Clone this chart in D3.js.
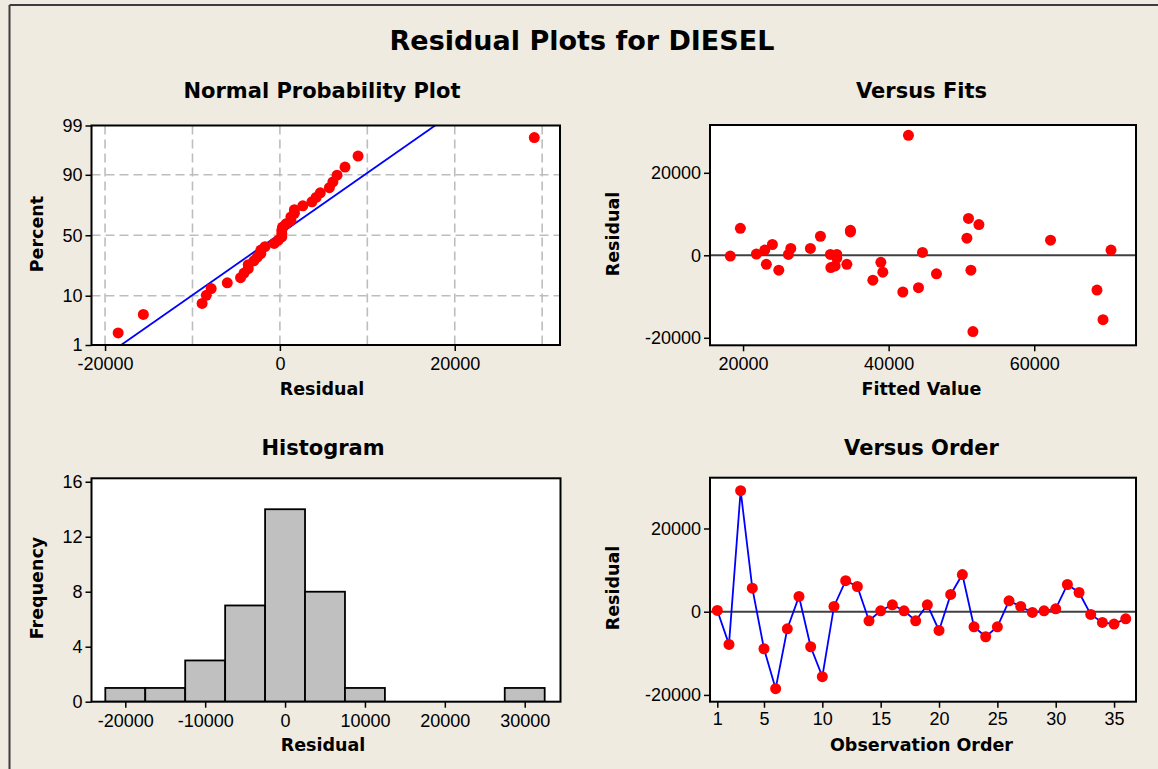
<!DOCTYPE html>
<html><head><meta charset="utf-8">
<script src="https://cdn.jsdelivr.net/npm/d3@7"></script>
<style>body{margin:0;background:#EFEBE0;}svg{display:block}</style>
</head><body>
<svg id="c" width="1158" height="769"></svg>
<script>
// ---------- data ----------
const residuals = [300, -7860, 29100, 5660, -8900, -18500, -4100, 3660, -8420, -15620,
  1260, 7450, 6060, -2180, 220, 1660, 220, -2180, 1660, -4500,
  4140, 8940, -3620, -6020, -3620, 2620, 1260, -180, 220, 700,
  6540, 4620, -660, -2580, -2980, -1700];
const fitted = [21830, 44100, 42720, 34750, 41950, 51580, 39200, 62240, 68620, 69450,
  22980, 52400, 34750, 23200, 32000, 26560, 32880, 34260, 29250, 46570,
  50750, 50970, 24910, 37830, 51300, 24030, 70550, 18250, 26230, 44650,
  19630, 30630, 32880, 32650, 32060, 38930];
const percentTicks = [1, 10, 50, 90, 99];
const percentGrid = [10, 50, 90];
const probXTicks = [-20000, 0, 20000];
const probXGrid = [-20000, -10000, 0, 10000, 20000, 30000];
const fitsXTicks = [20000, 40000, 60000];
const residTicks = [-20000, 0, 20000];
const histXTicks = [-20000, -10000, 0, 10000, 20000, 30000];
const histYTicks = [0, 4, 8, 12, 16];
const histEdges = [-22500, -17500, -12500, -7500, -2500, 2500, 7500, 12500, 17500, 22500, 27500, 32500];
const orderTicks = [1, 5, 10, 15, 20, 25, 30, 35];

// ---------- helpers ----------
function qnorm(p){
  const a=[-3.969683028665376e+01,2.209460984245205e+02,-2.759285104469687e+02,1.383577518672690e+02,-3.066479806614716e+01,2.506628277459239e+00];
  const b=[-5.447609879822406e+01,1.615858368580409e+02,-1.556989798598866e+02,6.680131188771972e+01,-1.328068155288572e+01];
  const c=[-7.784894002430293e-03,-3.223964580411365e-01,-2.400758277161838e+00,-2.549732539343734e+00,4.374664141464968e+00,2.938163982698783e+00];
  const d=[7.784695709041462e-03,3.224671290700398e-01,2.445134137142996e+00,3.754408661907416e+00];
  const pl=0.02425, ph=1-pl; let q,r;
  if(p<pl){q=Math.sqrt(-2*Math.log(p));return (((((c[0]*q+c[1])*q+c[2])*q+c[3])*q+c[4])*q+c[5])/((((d[0]*q+d[1])*q+d[2])*q+d[3])*q+1);}
  if(p<=ph){q=p-0.5;r=q*q;return (((((a[0]*r+a[1])*r+a[2])*r+a[3])*r+a[4])*r+a[5])*q/(((((b[0]*r+b[1])*r+b[2])*r+b[3])*r+b[4])*r+1);}
  q=Math.sqrt(-2*Math.log(1-p));
  return -(((((c[0]*q+c[1])*q+c[2])*q+c[3])*q+c[4])*q+c[5])/((((d[0]*q+d[1])*q+d[2])*q+d[3])*q+1);
}
const BG = "#EFEBE0";
const TICKFONT = "'Liberation Sans', Arial, sans-serif";
const BOLDFONT = "'DejaVu Sans', Verdana, sans-serif";
const svg = d3.select("#c");
svg.append("rect").attr("width",1158).attr("height",769).attr("fill",BG);
svg.append("line").attr("x1",9.5).attr("x2",1158).attr("y1",5).attr("y2",5).attr("stroke","#3c3c3c").attr("stroke-width",2);
svg.append("line").attr("x1",9.5).attr("x2",9.5).attr("y1",5).attr("y2",769).attr("stroke","#3c3c3c").attr("stroke-width",2);

svg.append("text").attr("x",582).attr("y",50).attr("text-anchor","middle")
  .attr("font-family",BOLDFONT).attr("font-weight","bold").attr("font-size",27).text("Residual Plots for DIESEL");

function styleAxis(g){
  g.select(".domain").remove();
  g.selectAll(".tick line").attr("stroke","#000").attr("stroke-width",1.5);
  g.selectAll(".tick text").attr("font-family",TICKFONT).attr("font-size",18).attr("fill","#000");
}
let clipId = 0;
function makePanel(b, title, titleX, titleY, xlab, xlabY, ylab, ylabX, ylabY){
  const g = svg.append("g");
  g.append("rect").attr("x",b.x0).attr("y",b.y0).attr("width",b.x1-b.x0).attr("height",b.y1-b.y0).attr("fill","#fff");
  const id = "clip"+(clipId++);
  svg.append("clipPath").attr("id",id).append("rect").attr("x",b.x0).attr("y",b.y0).attr("width",b.x1-b.x0).attr("height",b.y1-b.y0);
  const inner = g.append("g").attr("clip-path","url(#"+id+")");
  svg.append("text").attr("x",titleX).attr("y",titleY).attr("text-anchor","middle")
    .attr("font-family",BOLDFONT).attr("font-weight","bold").attr("font-size",21).text(title);
  svg.append("text").attr("x",titleX).attr("y",xlabY).attr("text-anchor","middle")
    .attr("font-family",BOLDFONT).attr("font-weight","bold").attr("font-size",17.5).text(xlab);
  svg.append("text").attr("transform",`translate(${ylabX},${ylabY}) rotate(-90)`).attr("text-anchor","middle")
    .attr("font-family",BOLDFONT).attr("font-weight","bold").attr("font-size",17.5).text(ylab);
  return {g, inner, frame: () => g.append("rect").attr("x",b.x0).attr("y",b.y0).attr("width",b.x1-b.x0).attr("height",b.y1-b.y0)
      .attr("fill","none").attr("stroke","#000").attr("stroke-width",2)};
}
const fmt = d => String(d);

// ---------- Panel 1: Normal probability plot ----------
{
  const b = {x0:91.5, x1:560, y0:125.5, y1:345};
  const p = makePanel(b, "Normal Probability Plot", 322, 97.5, "Residual", 394.5, "Percent", 43, 234);
  const x = d3.scaleLinear().domain([-21550, 32040]).range([b.x0, b.x1]);
  const y = d3.scaleLinear().domain([qnorm(0.01), qnorm(0.99)]).range([b.y1, b.y0]);
  const grid = p.inner.append("g").attr("stroke","#BDBDBD").attr("stroke-width",1.6).attr("stroke-dasharray","9,5");
  grid.selectAll(".v").data(probXGrid).join("line").attr("x1",d=>x(d)).attr("x2",d=>x(d)).attr("y1",b.y0).attr("y2",b.y1);
  grid.selectAll(".h").data(percentGrid).join("line").attr("y1",d=>y(qnorm(d/100))).attr("y2",d=>y(qnorm(d/100))).attr("x1",b.x0).attr("x2",b.x1);
  const n = residuals.length;
  const mu = d3.mean(residuals), sd = d3.deviation(residuals);
  const zs = [qnorm(0.005), qnorm(0.995)];
  p.inner.append("path").attr("d", d3.line()(zs.map(z=>[x(mu+sd*z), y(z)])))
    .attr("stroke","#0000FF").attr("stroke-width",1.8).attr("fill","none");
  const sorted = residuals.slice().sort(d3.ascending);
  const pts = sorted.map((r,i)=>({r, z: qnorm((i+1-0.3)/(n+0.4))}));
  p.inner.selectAll("circle").data(pts).join("circle").attr("cx",d=>x(d.r)).attr("cy",d=>y(d.z)).attr("r",5.5).attr("fill","#FF0000");
  p.frame();
  svg.append("g").attr("transform",`translate(0,${b.y1})`).call(d3.axisBottom(x).tickValues(probXTicks).tickFormat(fmt).tickSize(6).tickPadding(6)).call(styleAxis);
  svg.append("g").attr("transform",`translate(${b.x0},0)`).call(d3.axisLeft(y).tickValues(percentTicks.map(v=>qnorm(v/100))).tickFormat((d,i)=>String(percentTicks[i])).tickSize(6).tickPadding(3)).call(styleAxis);
}

// ---------- Panel 2: Versus Fits ----------
{
  const b = {x0:710, x1:1136, y0:125, y1:345.3};
  const p = makePanel(b, "Versus Fits", 921.5, 98, "Fitted Value", 394.5, "Residual", 619, 234);
  const x = d3.scaleLinear().domain([15460, 73980]).range([b.x0, b.x1]);
  const y = d3.scaleLinear().domain([-21820, 31590]).range([b.y1, b.y0]);
  p.inner.append("line").attr("x1",b.x0).attr("x2",b.x1).attr("y1",y(0)).attr("y2",y(0)).attr("stroke","#404040").attr("stroke-width",2);
  p.inner.selectAll("circle").data(residuals.map((r,i)=>({r, f:fitted[i]}))).join("circle")
    .attr("cx",d=>x(d.f)).attr("cy",d=>y(d.r)).attr("r",5.5).attr("fill","#FF0000");
  p.frame();
  svg.append("g").attr("transform",`translate(0,${b.y1})`).call(d3.axisBottom(x).tickValues(fitsXTicks).tickFormat(fmt).tickSize(6).tickPadding(6)).call(styleAxis);
  svg.append("g").attr("transform",`translate(${b.x0},0)`).call(d3.axisLeft(y).tickValues(residTicks).tickFormat(fmt).tickSize(6).tickPadding(3)).call(styleAxis);
}

// ---------- Panel 3: Histogram ----------
{
  const b = {x0:91.5, x1:560.5, y0:478.3, y1:701.7};
  const p = makePanel(b, "Histogram", 323, 455, "Residual", 751, "Frequency", 43, 588);
  const x = d3.scaleLinear().domain([-24230, 34480]).range([b.x0, b.x1]);
  const y = d3.scaleLinear().domain([0, 16.25]).range([b.y1, b.y0]);
  const bins = d3.bin().domain([histEdges[0], histEdges[histEdges.length-1]]).thresholds(histEdges.slice(1,-1))(residuals);
  p.inner.selectAll("rect.bar").data(bins.filter(d=>d.length>0)).join("rect").attr("class","bar")
    .attr("x",d=>x(d.x0)).attr("width",d=>x(d.x1)-x(d.x0)).attr("y",d=>y(d.length)).attr("height",d=>y(0)-y(d.length))
    .attr("fill","#C0C0C0").attr("stroke","#000").attr("stroke-width",1.8);
  p.frame();
  svg.append("g").attr("transform",`translate(0,${b.y1})`).call(d3.axisBottom(x).tickValues(histXTicks).tickFormat(fmt).tickSize(6).tickPadding(7)).call(styleAxis);
  svg.append("g").attr("transform",`translate(${b.x0},0)`).call(d3.axisLeft(y).tickValues(histYTicks).tickFormat(fmt).tickSize(6).tickPadding(3)).call(styleAxis);
}

// ---------- Panel 4: Versus Order ----------
{
  const b = {x0:710, x1:1136, y0:477.7, y1:701.7};
  const p = makePanel(b, "Versus Order", 921.5, 455, "Observation Order", 751, "Residual", 619, 588);
  const x = d3.scaleLinear().domain([0.374, 36.88]).range([b.x0, b.x1]);
  const y = d3.scaleLinear().domain([-21630, 32210]).range([b.y1, b.y0]);
  const pts = residuals.map((r,i)=>({o:i+1, r}));
  p.inner.append("line").attr("x1",b.x0).attr("x2",b.x1).attr("y1",y(0)).attr("y2",y(0)).attr("stroke","#404040").attr("stroke-width",2);
  p.inner.append("path").attr("d", d3.line().x(d=>x(d.o)).y(d=>y(d.r))(pts)).attr("stroke","#0000FF").attr("stroke-width",1.8).attr("fill","none");
  p.inner.selectAll("circle").data(pts).join("circle").attr("cx",d=>x(d.o)).attr("cy",d=>y(d.r)).attr("r",5.5).attr("fill","#FF0000");
  p.frame();
  svg.append("g").attr("transform",`translate(0,${b.y1})`).call(d3.axisBottom(x).tickValues(orderTicks).tickFormat(fmt).tickSize(6).tickPadding(5)).call(styleAxis);
  svg.append("g").attr("transform",`translate(${b.x0},0)`).call(d3.axisLeft(y).tickValues(residTicks).tickFormat(fmt).tickSize(6).tickPadding(3)).call(styleAxis);
}
</script>
</body></html>
